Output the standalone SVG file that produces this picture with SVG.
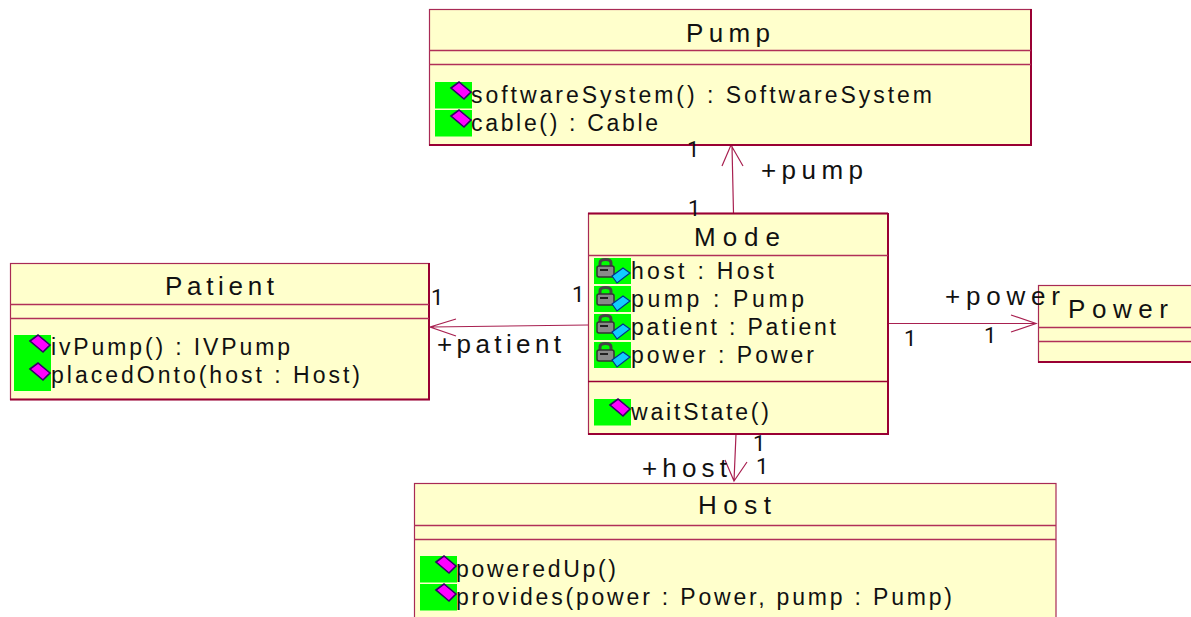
<svg xmlns="http://www.w3.org/2000/svg" xmlns:xlink="http://www.w3.org/1999/xlink" width="1191" height="617" viewBox="0 0 1191 617">
<style>
text{font-family:"Liberation Sans",Arial,sans-serif;fill:#111}
.b{fill:#ffffcc;stroke:#a82a55;stroke-width:1.2}
.e{stroke:#990033;stroke-width:2;fill:none}
.l{stroke:#b03058;stroke-width:1.3;fill:none}
.c{stroke:#a82050;stroke-width:1.2;fill:none}
.t{font-size:26px}
.m{font-size:23px}
text.n{font-size:22px;font-family:Roboto,"Liberation Sans",sans-serif}
</style>
<defs>
<path id="dia" d="M16 6L24 0L36 10L29 17Z" fill="#ff00ff" stroke="#330066" stroke-width="1.6"/>
<g id="op"><rect x="0" y="0" width="37" height="26.500" fill="#00ff00"/><use xlink:href="#dia"/></g>
<g id="attr"><rect x="0" y="0" width="37" height="26" fill="#00ff00"/><path d="M6 8V5Q6 1.500 11.500 1.500Q17 1.500 17 5V8" fill="none" stroke="#444" stroke-width="3"/><rect x="3" y="8" width="17" height="11" rx="2" fill="#8a8a8a" stroke="#333" stroke-width="1.500"/><path d="M6 12H14" stroke="#222" stroke-width="2"/><path d="M18 18L29 10L36 15L23 25Z" fill="#11ccff" stroke="#003388" stroke-width="1.200"/></g>
</defs>
<g id="connectors">
<path class="c" d="M733.500 213L732 146M722 166L731 145L743 166"/>
<path class="c" d="M588 325L431 327M456 319L430 327L456 336"/>
<path class="c" d="M888 323.500H1036M1011 315L1036 323.500L1011 332"/>
<path class="c" d="M736 434L734 481M725 460L734 481L747 462"/>
</g>
<g id="pump">
<rect class="b" x="429.500" y="9.500" width="601.500" height="135.500"/>
<path class="e" d="M429 145H1031V9"/>
<path class="l" d="M429 50.500H1031M429 64.500H1031"/>
<text class="t" x="686" y="42" textLength="84">Pump</text>
<use xlink:href="#op" x="435" y="82"/><use xlink:href="#op" x="435" y="110"/>
<text class="m" x="471" y="103" textLength="461">softwareSystem() : SoftwareSystem</text>
<text class="m" x="471" y="131" textLength="187">cable() : Cable</text>
</g>
<g id="mode">
<rect class="b" x="588.500" y="213.500" width="299.500" height="220.500"/>
<path class="e" d="M588 434H888V213M588 213.500H888"/>
<path class="l" d="M588 255.500H888"/>
<path class="e" style="stroke-width:1.3" d="M588 381.500H888"/>
<text class="t" x="694" y="246" textLength="86">Mode</text>
<use xlink:href="#attr" x="594" y="258"/><use xlink:href="#attr" x="594" y="286"/><use xlink:href="#attr" x="594" y="314"/><use xlink:href="#attr" x="594" y="342"/>
<text class="m" x="631" y="279" textLength="143">host : Host</text>
<text class="m" x="631" y="307" textLength="173">pump : Pump</text>
<text class="m" x="631" y="335" textLength="205">patient : Patient</text>
<text class="m" x="631" y="363" textLength="183">power : Power</text>
<use xlink:href="#op" x="594" y="399"/>
<text class="m" x="631" y="420" textLength="138">waitState()</text>
</g>
<g id="patient">
<rect class="b" x="10.500" y="263.500" width="418.500" height="136"/>
<path class="e" d="M10 399.500H429V263"/>
<path class="l" d="M10 304.500H429M10 318.500H429"/>
<text class="t" x="165" y="295" textLength="109">Patient</text>
<rect x="14" y="335" width="37" height="56" fill="#00ff00"/>
<use xlink:href="#dia" x="14" y="335"/><use xlink:href="#dia" x="14" y="363"/>
<text class="m" x="51" y="355" textLength="239">ivPump() : IVPump</text>
<text class="m" x="51" y="383" textLength="309">placedOnto(host : Host)</text>
</g>
<g id="power">
<rect class="b" x="1038.500" y="285.500" width="160" height="76.500"/>
<path class="e" d="M1038 362H1191"/>
<path class="l" d="M1038 327.500H1191M1038 341.500H1191"/>
<text class="t" x="1068" y="318" textLength="100">Power</text>
</g>
<g id="host">
<rect class="b" x="414.500" y="483.500" width="641.500" height="150"/>
<path class="l" d="M414 525.500H1056M414 539.500H1056"/>
<text class="t" x="698" y="514" textLength="73">Host</text>
<use xlink:href="#op" x="420" y="556"/><use xlink:href="#op" x="420" y="584"/>
<text class="m" x="456" y="577" textLength="160">poweredUp()</text>
<text class="m" x="456" y="605" textLength="496">provides(power : Power, pump : Pump)</text>
</g>
<g id="labels">
<text class="n" x="687" y="157">1</text>
<text class="n" x="688" y="216">1</text>
<text class="t" x="761" y="179" textLength="102">+pump</text>
<text class="n" x="431" y="305">1</text>
<text class="n" x="572" y="302">1</text>
<text class="t" x="437" y="353" textLength="124">+patient</text>
<text class="t" x="945" y="305" textLength="115">+power</text>
<text class="n" x="904" y="346">1</text>
<text class="n" x="984" y="343">1</text>
<text class="n" x="753" y="451">1</text>
<text class="n" x="756" y="474">1</text>
<text class="t" x="642" y="477" textLength="85">+host</text>
</g>
</svg>
